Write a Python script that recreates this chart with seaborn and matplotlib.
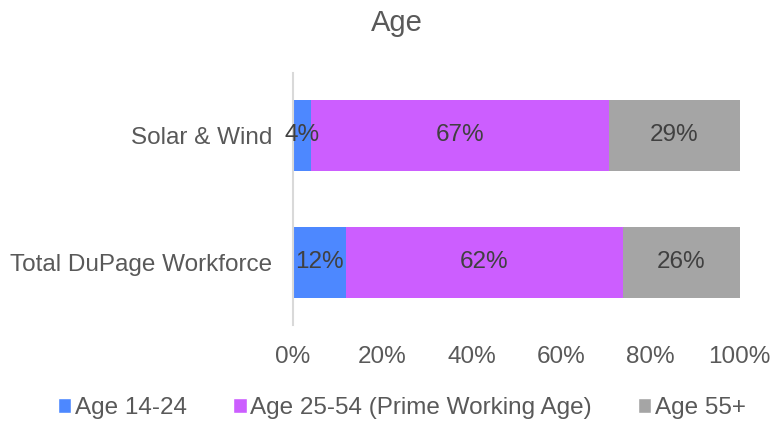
import numpy as np
import pandas as pd
import matplotlib.pyplot as plt
import seaborn as sns
from matplotlib.patches import Patch

sns.set_style('white')
plt.rcParams['font.family'] = ['Liberation Sans', 'DejaVu Sans']

groups = ['Solar & Wind', 'Total DuPage Workforce']
series = ['Age 14-24', 'Age 25-54 (Prime Working Age)', 'Age 55+']
age_14_24 = [4.0, 11.9]
age_25_54 = [66.7, 61.9]
age_55_up = [29.3, 26.2]
colors = ['#4D88FF', '#CC5EFF', '#A5A5A5']
txt = '#595959'

vals = np.array([age_14_24, age_25_54, age_55_up])
cum = vals.cumsum(axis=0)

fig = plt.figure(figsize=(7.73, 4.21), dpi=100)
ax = fig.add_axes([0.379, 0.228, 0.578, 0.599])

# draw stacked bars from the outermost total inward
for i in range(2, -1, -1):
    df = pd.DataFrame({'group': groups, 'value': cum[i]})
    sns.barplot(data=df, x='value', y='group', orient='h', color=colors[i],
                width=0.56, linewidth=0, saturation=1, ax=ax)

for j in range(len(groups)):
    start = 0
    for i in range(3):
        ax.text(start + vals[i, j] / 2, j, f'{vals[i, j]:.0f}%', ha='center',
                va='center', fontsize=17.5, color='#404040')
        start += vals[i, j]

ax.set_xlim(0, 100)
ax.set_ylim(1.492, -0.492)
ax.set_xticks(range(0, 101, 20))
ax.set_xticklabels([f'{t}%' for t in range(0, 101, 20)])
ax.set_xlabel('')
ax.set_ylabel('')
ax.tick_params(axis='both', length=0, labelsize=17.5, colors=txt)
ax.tick_params(axis='x', pad=15)
ax.tick_params(axis='y', pad=15)
for s in ['top', 'right', 'bottom']:
    ax.spines[s].set_visible(False)
ax.spines['left'].set_color('#D9D9D9')
ax.spines['left'].set_linewidth(1.5)

fig.text(0.513, 0.945, 'Age', ha='center', va='center', fontsize=21, color=txt)

handles = [Patch(facecolor=c, label=l) for c, l in zip(colors, series)]
fig.legend(handles=handles, loc='center', bbox_to_anchor=(0.52, 0.03), ncol=3,
           frameon=False, fontsize=17.5, labelcolor=txt, handlelength=0.55,
           handleheight=0.55, handletextpad=0.15, columnspacing=1.9)

fig.savefig('out.png', dpi=100)
